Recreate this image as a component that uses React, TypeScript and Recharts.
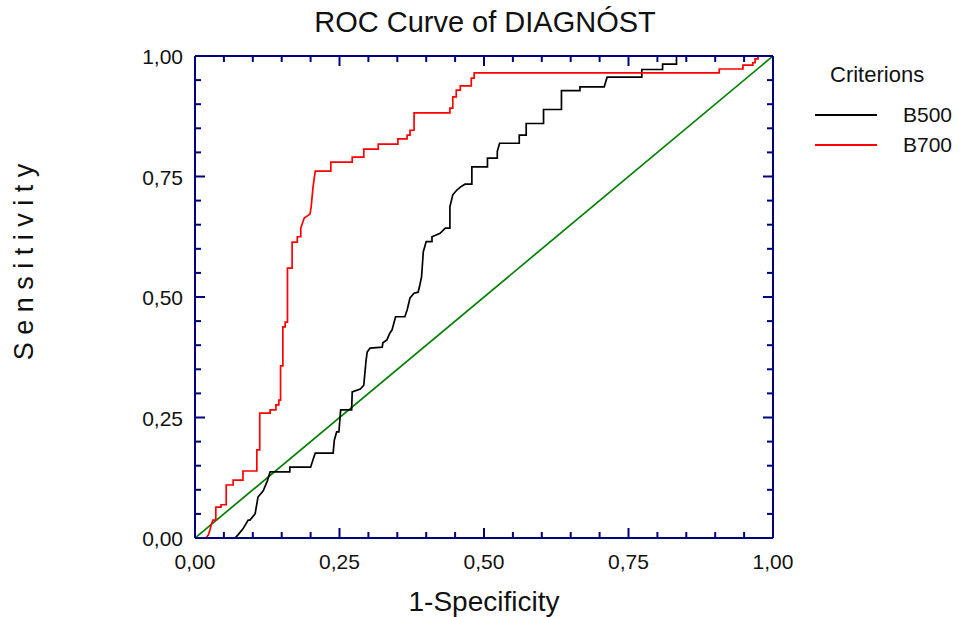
import {
  LineChart,
  Line,
  XAxis,
  YAxis,
  Legend,
} from "recharts";

// ROC points as [1-specificity, sensitivity]
const b500Roc: [number, number][] = [
  [0, 0], [0.069, 0], [0.074, 0.006], [0.083, 0.019], [0.092, 0.037], [0.095, 0.037],
  [0.104, 0.05], [0.109, 0.085], [0.118, 0.098], [0.125, 0.118], [0.13, 0.137],
  [0.164, 0.137], [0.164, 0.147], [0.2, 0.147], [0.204, 0.162], [0.208, 0.176],
  [0.239, 0.176], [0.241, 0.203], [0.245, 0.22], [0.249, 0.22], [0.252, 0.266],
  [0.271, 0.266], [0.272, 0.303], [0.286, 0.309], [0.292, 0.317], [0.296, 0.369],
  [0.298, 0.386], [0.303, 0.394], [0.324, 0.396], [0.325, 0.405], [0.332, 0.411],
  [0.337, 0.425], [0.341, 0.432], [0.347, 0.459], [0.363, 0.459], [0.367, 0.473],
  [0.372, 0.498], [0.379, 0.508], [0.386, 0.51], [0.389, 0.525], [0.392, 0.542],
  [0.395, 0.594], [0.4, 0.615], [0.41, 0.615], [0.41, 0.625], [0.424, 0.632],
  [0.433, 0.643], [0.441, 0.643], [0.441, 0.687], [0.446, 0.712], [0.453, 0.722],
  [0.459, 0.728], [0.467, 0.734], [0.479, 0.734], [0.479, 0.77], [0.506, 0.77],
  [0.506, 0.788], [0.523, 0.788], [0.523, 0.802], [0.527, 0.819], [0.561, 0.819],
  [0.561, 0.836], [0.573, 0.836], [0.573, 0.86], [0.603, 0.86], [0.603, 0.889],
  [0.634, 0.889], [0.634, 0.928], [0.666, 0.928], [0.666, 0.936], [0.708, 0.936],
  [0.713, 0.956], [0.773, 0.956], [0.773, 0.972], [0.809, 0.972], [0.809, 0.983],
  [0.833, 0.983], [0.833, 1], [1, 1],
];

const b700Roc: [number, number][] = [
  [0, 0], [0.019, 0], [0.023, 0.006], [0.026, 0.017], [0.028, 0.027], [0.031, 0.037],
  [0.036, 0.037], [0.036, 0.064], [0.045, 0.064], [0.045, 0.069], [0.054, 0.069],
  [0.054, 0.11], [0.066, 0.11], [0.066, 0.12], [0.083, 0.12], [0.083, 0.139],
  [0.107, 0.139], [0.107, 0.183], [0.112, 0.183], [0.112, 0.259], [0.13, 0.259],
  [0.13, 0.266], [0.14, 0.266], [0.14, 0.276], [0.145, 0.276], [0.145, 0.286],
  [0.148, 0.286], [0.148, 0.357], [0.152, 0.357], [0.152, 0.438], [0.156, 0.438],
  [0.156, 0.448], [0.16, 0.448], [0.16, 0.56], [0.168, 0.56], [0.168, 0.614],
  [0.177, 0.614], [0.177, 0.625], [0.183, 0.625], [0.183, 0.643], [0.189, 0.664],
  [0.199, 0.672], [0.201, 0.687], [0.204, 0.726], [0.208, 0.761], [0.235, 0.761],
  [0.235, 0.78], [0.272, 0.78], [0.272, 0.79], [0.292, 0.79], [0.292, 0.807],
  [0.317, 0.807], [0.317, 0.817], [0.351, 0.817], [0.351, 0.828], [0.367, 0.828],
  [0.367, 0.836], [0.372, 0.836], [0.372, 0.846], [0.379, 0.846], [0.379, 0.882],
  [0.441, 0.882], [0.441, 0.892], [0.446, 0.892], [0.446, 0.915], [0.452, 0.915],
  [0.452, 0.929], [0.459, 0.929], [0.459, 0.938], [0.478, 0.938], [0.478, 0.954],
  [0.483, 0.954], [0.483, 0.965], [0.907, 0.965], [0.907, 0.973], [0.948, 0.973],
  [0.948, 0.981], [0.965, 0.981], [0.965, 0.986], [0.969, 0.986], [0.969, 0.994],
  [0.974, 0.994], [0.974, 1], [1, 1],
];

const chanceLine: [number, number][] = [[0, 0], [1, 1]];

// tick marks every 0.05, labels every 0.25
const axisTicks = [
  0, 0.05, 0.1, 0.15, 0.2, 0.25, 0.3, 0.35, 0.4, 0.45, 0.5,
  0.55, 0.6, 0.65, 0.7, 0.75, 0.8, 0.85, 0.9, 0.95, 1,
];
const labelTicks = [0, 0.25, 0.5, 0.75, 1];

const NAVY = "#000080";
const FONT = "'Liberation Sans', Arial, sans-serif";

const toPoints = (pts: [number, number][]) => pts.map(([x, y]) => ({ x, y }));

const isMajor = (v: number) => labelTicks.some((t) => Math.abs(t - v) < 1e-6);
const fmt = (v: number) => v.toFixed(2).replace(".", ",");

// ticks point into the plot, like the original
function makeTick(side: "bottom" | "top" | "left" | "right", showLabel: boolean) {
  return (props: any) => {
    const { x, y, payload } = props;
    const v = payload.value as number;
    const len = isMajor(v) ? 10 : 6;
    let line;
    if (side === "bottom") line = <line x1={x} y1={y} x2={x} y2={y - len} />;
    else if (side === "top") line = <line x1={x} y1={y} x2={x} y2={y + len} />;
    else if (side === "left") line = <line x1={x} y1={y} x2={x + len} y2={y} />;
    else line = <line x1={x} y1={y} x2={x - len} y2={y} />;
    return (
      <g>
        <g stroke={NAVY} strokeWidth={2}>{line}</g>
        {showLabel && isMajor(v) && side === "bottom" && (
          <text x={x} y={y + 31} textAnchor="middle" fontSize={21} fill="#111" fontFamily={FONT}>
            {fmt(v)}
          </text>
        )}
        {showLabel && isMajor(v) && side === "left" && (
          <text x={x - 12} y={y + 8} textAnchor="end" fontSize={21} fill="#111" fontFamily={FONT}>
            {fmt(v)}
          </text>
        )}
      </g>
    );
  };
}

function LegendBox({ payload }: any) {
  const items = (payload || []).filter((p: any) => p.type !== "none");
  return (
    <div style={{ fontFamily: FONT, color: "#111" }}>
      <div style={{ fontSize: 22, marginLeft: 15, marginBottom: 12 }}>Criterions</div>
      {items.map((p: any) => (
        <div key={p.value} style={{ display: "flex", alignItems: "center", height: 30 }}>
          <svg width={62} height={4} style={{ marginRight: 26 }}>
            <line x1={0} y1={2} x2={62} y2={2} stroke={p.color} strokeWidth={2} />
          </svg>
          <span style={{ fontSize: 21 }}>{p.value}</span>
        </div>
      ))}
    </div>
  );
}

export default function App() {
  return (
    <div
      style={{
        position: "absolute",
        left: 0,
        top: 0,
        width: 961,
        height: 617,
        background: "#fff",
        fontFamily: FONT,
      }}
    >
      <div
        style={{
          position: "absolute",
          top: 6,
          left: 0,
          width: 970,
          textAlign: "center",
          fontSize: 29,
          color: "#111",
        }}
      >
        ROC Curve of DIAGNÓST
      </div>
      <LineChart
        width={961}
        height={617}
        margin={{ top: 55, right: 187, bottom: 0, left: 0 }}
      >
        <XAxis
          dataKey="x"
          type="number"
          domain={[0, 1]}
          ticks={axisTicks}
          interval={0}
          allowDataOverflow
          height={79}
          tickSize={0}
          tickMargin={0}
          tickLine={false}
          axisLine={{ stroke: NAVY, strokeWidth: 2 }}
          tick={makeTick("bottom", true)}
          label={{
            content: ({ viewBox }: any) => (
              <text
                x={viewBox.x + viewBox.width / 2}
                y={viewBox.y + 73}
                textAnchor="middle"
                fontSize={28}
                fill="#111"
                fontFamily={FONT}
              >
                1-Specificity
              </text>
            ),
          }}
        />
        <XAxis
          xAxisId="top"
          orientation="top"
          dataKey="x"
          type="number"
          domain={[0, 1]}
          ticks={axisTicks}
          interval={0}
          allowDataOverflow
          height={1}
          tickSize={0}
          tickMargin={0}
          tickLine={false}
          axisLine={{ stroke: NAVY, strokeWidth: 2 }}
          tick={makeTick("top", false)}
        />
        <YAxis
          type="number"
          domain={[0, 1]}
          ticks={axisTicks}
          interval={0}
          allowDataOverflow
          width={195}
          tickSize={0}
          tickMargin={0}
          tickLine={false}
          axisLine={{ stroke: NAVY, strokeWidth: 2 }}
          tick={makeTick("left", true)}
          label={{
            content: ({ viewBox }: any) => {
              const cx = viewBox.x + 33;
              const cy = viewBox.y + viewBox.height / 2 - 35;
              return (
                <text
                  x={cx}
                  y={cy}
                  textAnchor="middle"
                  fontSize={27}
                  fill="#111"
                  fontFamily={FONT}
                  transform={`rotate(-90 ${cx} ${cy})`}
                >
                  S e n s i t i v i t y
                </text>
              );
            },
          }}
        />
        <YAxis
          yAxisId="right"
          orientation="right"
          type="number"
          domain={[0, 1]}
          ticks={axisTicks}
          interval={0}
          allowDataOverflow
          width={1}
          tickSize={0}
          tickMargin={0}
          tickLine={false}
          axisLine={{ stroke: NAVY, strokeWidth: 2 }}
          tick={makeTick("right", false)}
        />
        <Legend
          verticalAlign="middle"
          align="center"
          layout="vertical"
          content={<LegendBox />}
          wrapperStyle={{ left: 815, top: 62, width: 146 }}
        />
        <Line
          data={toPoints(chanceLine)}
          xAxisId="top"
          yAxisId="right"
          dataKey="y"
          type="linear"
          stroke="#008000"
          strokeWidth={1.7}
          dot={false}
          legendType="none"
          isAnimationActive={false}
        />
        <Line
          data={toPoints(b500Roc)}
          dataKey="y"
          name="B500"
          type="linear"
          stroke="#000000"
          strokeWidth={1.7}
          dot={false}
          isAnimationActive={false}
        />
        <Line
          data={toPoints(b700Roc)}
          dataKey="y"
          name="B700"
          type="linear"
          stroke="#ff0000"
          strokeWidth={1.7}
          dot={false}
          isAnimationActive={false}
        />
      </LineChart>
    </div>
  );
}
